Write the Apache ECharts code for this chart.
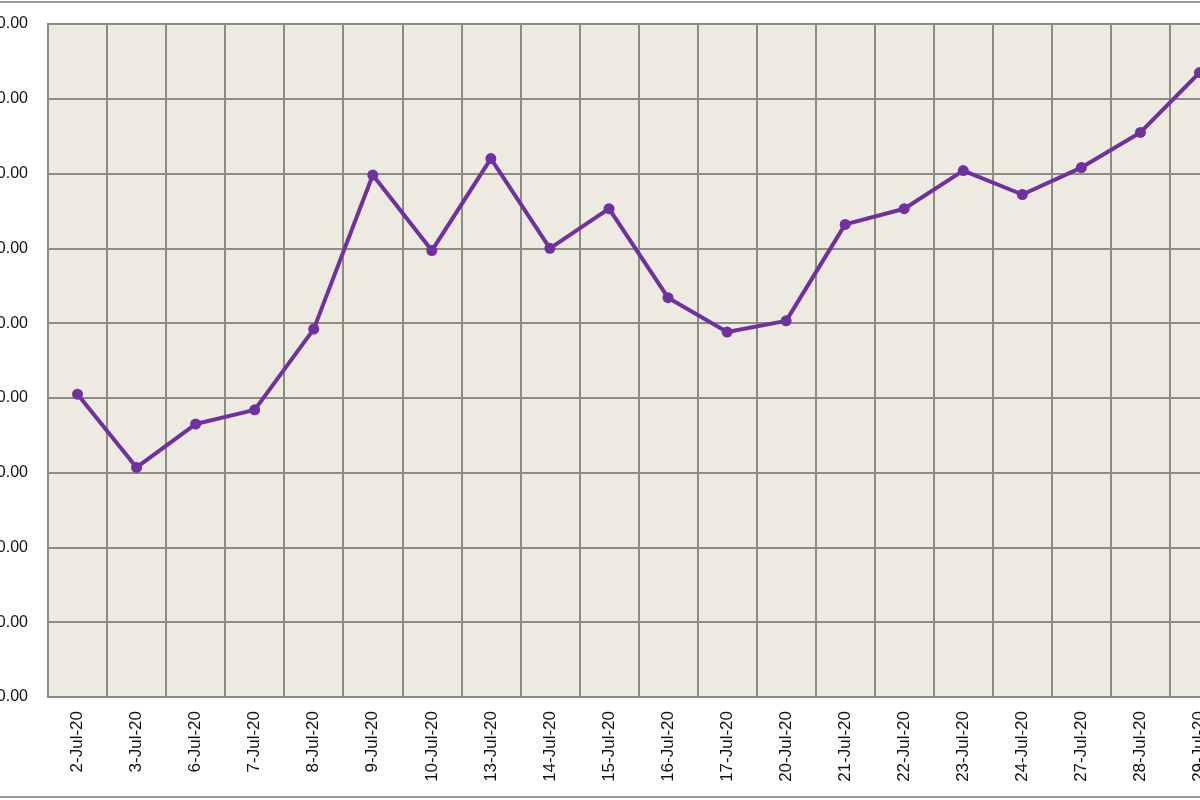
<!DOCTYPE html>
<html>
<head>
<meta charset="utf-8">
<script src="https://cdn.jsdelivr.net/npm/echarts@6/dist/echarts.min.js"></script>
<style>
  html, body { margin: 0; padding: 0; background: #fff; }
  #chart { width: 1200px; height: 800px; }
</style>
</head>
<body>
<div id="chart"></div>
<script>
// trading days, July 2020
var dates = ['2-Jul-20', '3-Jul-20', '6-Jul-20', '7-Jul-20', '8-Jul-20', '9-Jul-20', '10-Jul-20',
  '13-Jul-20', '14-Jul-20', '15-Jul-20', '16-Jul-20', '17-Jul-20', '20-Jul-20', '21-Jul-20',
  '22-Jul-20', '23-Jul-20', '24-Jul-20', '27-Jul-20', '28-Jul-20', '29-Jul-20'];
var prices = [190.5, 180.7, 186.5, 188.4, 199.2, 219.8, 209.7, 222.0, 210.0, 215.3,
  203.4, 198.8, 200.3, 213.2, 215.3, 220.4, 217.2, 220.8, 225.5, 233.5];
var yMin = 150;
var yMax = 240;
var yStep = 10;

var chart = echarts.init(document.getElementById('chart'));
chart.setOption({
  animation: false,
  backgroundColor: '#fff',
  graphic: [{
    type: 'rect',
    shape: { x: -10, y: 2, width: 1220, height: 795 },
    style: { fill: 'none', stroke: '#9a9a9a', lineWidth: 2 },
    silent: true
  }],
  grid: {
    left: 48,
    right: -29,
    top: 24,
    bottom: 103,
    containLabel: false,
    outerBoundsMode: 'none',
    show: true,
    backgroundColor: '#ECEAE1',
    borderColor: '#8c8c84',
    borderWidth: 2
  },
  xAxis: {
    type: 'category',
    data: dates,
    boundaryGap: true,
    axisLine: { show: false },
    axisTick: { show: false },
    splitLine: { show: true, interval: 0, lineStyle: { color: '#8c8c84', width: 2 } },
    axisLabel: {
      interval: 0,
      rotate: 90,
      margin: 14,
      color: '#111',
      fontFamily: 'Liberation Sans, Arial, sans-serif',
      fontSize: 17
    }
  },
  yAxis: {
    type: 'value',
    min: yMin,
    max: yMax,
    interval: yStep,
    axisLine: { show: false },
    axisTick: { show: false },
    splitLine: { show: true, lineStyle: { color: '#8c8c84', width: 2 } },
    axisLabel: {
      margin: 20,
      color: '#111',
      fontFamily: 'Liberation Sans, Arial, sans-serif',
      fontSize: 16,
      formatter: function (v) { return v.toFixed(2); }
    }
  },
  series: [{
    type: 'line',
    data: prices,
    symbol: 'circle',
    symbolSize: 11,
    lineStyle: { color: '#7030A0', width: 4 },
    itemStyle: { color: '#7030A0' }
  }]
});
</script>
</body>
</html>
